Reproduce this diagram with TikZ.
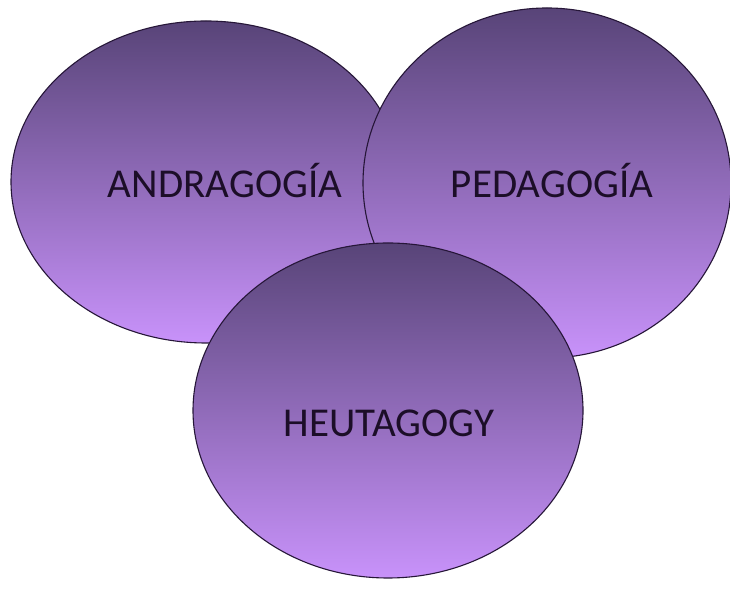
\documentclass[tikz,border=0pt]{standalone}
\usepackage{fontspec}
\setmainfont{Carlito}
\usetikzlibrary{shapes.geometric}
\definecolor{blobtop}{RGB}{88,68,120}
\definecolor{blobbot}{RGB}{200,146,250}
\definecolor{blobline}{RGB}{38,22,56}
\definecolor{labtext}{RGB}{28,14,40}
\tikzset{
  blob/.style={ellipse, draw=blobline, line width=1.1pt, top color=blobtop, bottom color=blobbot, inner sep=0pt, outer sep=0pt},
  lab/.style={anchor=base, text=labtext, font=\fontsize{41}{41}\selectfont, inner sep=0pt}
}
\begin{document}
\begin{tikzpicture}[x=1pt,y=1pt]
\fill[white] (0,0) rectangle (730,596);
\useasboundingbox (0,0) rectangle (730,596);
\node[blob, minimum width=390pt, minimum height=322pt] (andra) at (206,414) {};
\node[blob, minimum width=368pt, minimum height=350pt] (peda) at (547,413) {};
\node[blob, minimum width=390pt, minimum height=335pt] (heuta) at (388,185.5) {};
\node[lab] (tandra) at (225,398) {ANDRAGOGÍA};
\node[lab] (tpeda) at (552,398) {PEDAGOGÍA};
\node[lab] (theuta) at (389,159) {HEUTAGOGY};
\end{tikzpicture}
\end{document}
